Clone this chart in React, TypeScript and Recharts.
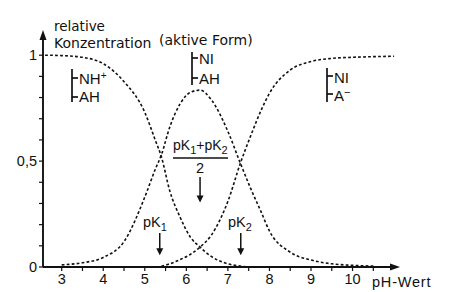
import React from 'react';
import { LineChart, Line, XAxis, YAxis, ReferenceLine } from 'recharts';

// pH grid and the three species
const phValues = [2.6, 3, 3.5, 4, 4.5, 5, 5.25, 5.4, 5.6, 5.85, 6.1, 6.33, 6.6, 7, 7.3, 7.55, 7.8, 8, 8.5, 9, 9.5, 10, 10.5, 11];
const cationForm = [1.0, 0.998, 0.99, 0.96, 0.875, 0.73, 0.6, 0.52, 0.36, 0.235, 0.14, 0.094, 0.05, 0.015, 0.004, 0, null, null, null, null, null, null, null, null];
const activeForm = [null, 0.01, 0.02, 0.045, 0.12, 0.33, 0.46, 0.53, 0.66, 0.77, 0.825, 0.835, 0.79, 0.64, 0.49, 0.37, 0.26, 0.17, 0.07, 0.033, 0.015, 0.008, 0.004, null];
const anionForm = [null, null, null, null, null, null, null, 0.004, 0.015, 0.035, 0.06, 0.094, 0.15, 0.31, 0.49, 0.62, 0.74, 0.82, 0.93, 0.97, 0.985, 0.99, 0.993, 0.995];

const pK1 = 5.36;
const pK2 = 7.31;
const pKMean = 6.33;

const xTicks = [3, 3.5, 4, 4.5, 5, 5.5, 6, 6.5, 7, 7.5, 8, 8.5, 9, 9.5, 10, 10.5];
const yTicks = [0, 0.1, 0.2, 0.3, 0.4, 0.5, 0.6, 0.7, 0.8, 0.9, 1.0];
const yLabels: Record<string, string> = { '0': '0', '0.5': '0,5', '1': '1' };

const data = phValues.map((ph, i) => ({
  ph,
  cation: cationForm[i],
  active: activeForm[i],
  anion: anionForm[i],
}));

const FONT = '"Liberation Sans", Arial, sans-serif';
const WIDE = '"DejaVu Sans", sans-serif';
const INK = '#111';

// vertical arrow drawn between the segment ends
const ArrowShape = (props: any) => {
  const { x1, y1, x2, y2 } = props;
  if (x1 == null) return null;
  return (
    <g>
      <line x1={x1} y1={y1} x2={x2} y2={y2 - 2} stroke={INK} strokeWidth={1.5} />
      <polygon points={`${x2 - 3.5},${y2 - 7} ${x2 + 3.5},${y2 - 7} ${x2},${y2}`} fill={INK} />
    </g>
  );
};

const dash = { stroke: INK, strokeWidth: 1.6, strokeDasharray: '2.8 2.2', dot: false, isAnimationActive: false, connectNulls: false };

const App: React.FC = () => {
  return (
    <div style={{ position: 'relative', width: 451, height: 292, background: '#fff' }}>
      <style>{'body{margin:0}'}</style>
      <LineChart width={451} height={292} data={data} margin={{ top: 34, right: 54, left: 13, bottom: 0 }}>
        <XAxis
          dataKey="ph"
          type="number"
          domain={[2.55, 11.07]}
          ticks={xTicks}
          interval={0}
          tickFormatter={(v: number) => (Number.isInteger(v) ? String(v) : '')}
          tick={{ fill: INK, fontSize: 14.5, fontFamily: FONT }}
          tickSize={4}
          tickMargin={3}
          height={25}
          axisLine={{ stroke: INK, strokeWidth: 1.9 }}
          tickLine={{ stroke: INK, strokeWidth: 1.2 }}
        />
        <YAxis
          type="number"
          domain={[0, 1.1]}
          ticks={yTicks}
          interval={0}
          width={30}
          tickFormatter={(v: number) => yLabels[String(Math.round(v * 10) / 10)] ?? ''}
          tick={{ fill: INK, fontSize: 14.5, fontFamily: FONT }}
          tickSize={4}
          tickMargin={2}
          axisLine={{ stroke: INK, strokeWidth: 1.9 }}
          tickLine={{ stroke: INK, strokeWidth: 1.2 }}
        />
        <Line type="monotone" dataKey="cation" {...dash} />
        <Line type="monotone" dataKey="active" {...dash} />
        <Line type="monotone" dataKey="anion" {...dash} />
        <ReferenceLine segment={[{ x: pK1, y: 0.16 }, { x: pK1, y: 0.055 }]} shape={ArrowShape} ifOverflow="visible" />
        <ReferenceLine segment={[{ x: pK2, y: 0.16 }, { x: pK2, y: 0.055 }]} shape={ArrowShape} ifOverflow="visible" />
        <ReferenceLine segment={[{ x: pKMean, y: 0.425 }, { x: pKMean, y: 0.305 }]} shape={ArrowShape} ifOverflow="visible" />
      </LineChart>
      <svg width={451} height={292} style={{ position: 'absolute', left: 0, top: 0, pointerEvents: 'none' }} fontFamily={FONT} fill={INK}>
        {/* axis arrow heads */}
        <polygon points="43,30 39.5,40 46.5,40" fill={INK} />
        <polygon points="400,267 390,263.5 390,270.5" fill={INK} />
        <text x={54} y={31} fontSize={13.5} fontFamily={WIDE}>relative</text>
        <text x={54} y={48} fontSize={14} fontFamily={WIDE}>Konzentration</text>
        <text x={159} y={45} fontSize={14} fontFamily={WIDE}>(aktive Form)</text>
        <text x={372} y={287} fontSize={14.5} letterSpacing={0.8}>pH-Wert</text>

        {/* species brackets */}
        <g stroke={INK} strokeWidth={1.7}>
          <line x1={72} y1={69} x2={72} y2={102} />
          <line x1={72} y1={78} x2={78} y2={78} />
          <line x1={72} y1={97} x2={78} y2={97} />
          <line x1={192} y1={52} x2={192} y2={85} />
          <line x1={192} y1={58} x2={198} y2={58} />
          <line x1={192} y1={78} x2={198} y2={78} />
          <line x1={327} y1={68} x2={327} y2={102} />
          <line x1={327} y1={76} x2={333} y2={76} />
          <line x1={327} y1={94} x2={333} y2={94} />
        </g>
        <text x={79} y={84} fontSize={15}>NH<tspan dy={-5} fontSize={10}>+</tspan></text>
        <text x={79} y={102} fontSize={15}>AH</text>
        <text x={199} y={64} fontSize={15}>NI</text>
        <text x={199} y={84} fontSize={15}>AH</text>
        <text x={334} y={83} fontSize={15}>NI</text>
        <text x={334} y={101} fontSize={15}>A<tspan dy={-5} fontSize={11}>−</tspan></text>

        <text x={173} y={150} fontSize={14}>pK<tspan dy={4} fontSize={11}>1</tspan><tspan dy={-4}>+pK</tspan><tspan dy={4} fontSize={11}>2</tspan></text>
        <line x1={173} y1={158} x2={228} y2={158} stroke={INK} strokeWidth={1.4} />
        <text x={200} y={173} fontSize={14.5} textAnchor="middle">2</text>
        <text x={143} y={227} fontSize={14.5}>pK<tspan dy={4} fontSize={11}>1</tspan></text>
        <text x={228} y={227} fontSize={14.5}>pK<tspan dy={4} fontSize={11}>2</tspan></text>
      </svg>
    </div>
  );
};

export default App;
